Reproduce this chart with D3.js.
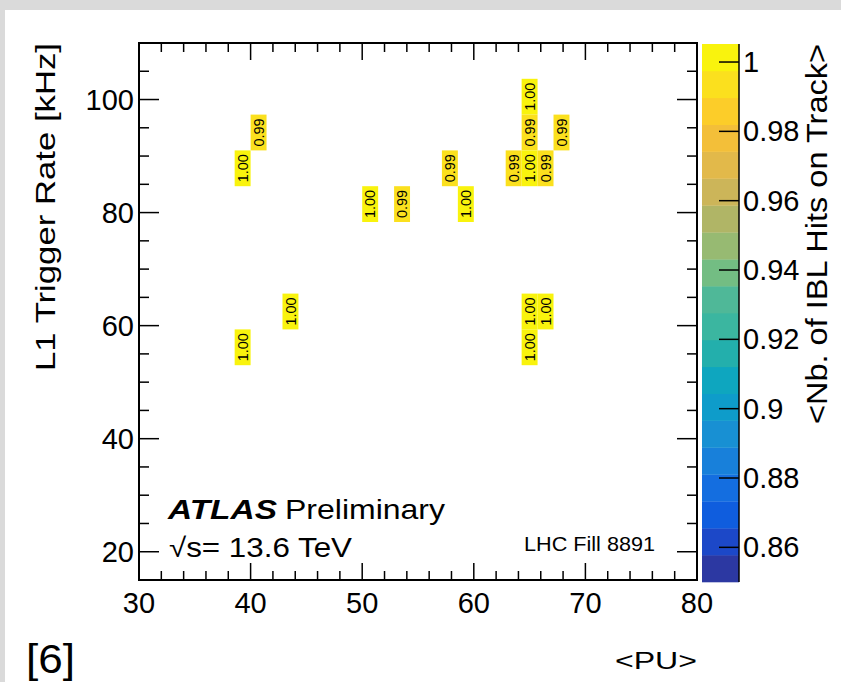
<!DOCTYPE html>
<html>
<head>
<meta charset="utf-8">
<script src="https://d3js.org/d3.v7.min.js"></script>
<style>
  body { margin: 0; background: #dadada; }
  svg text { font-family: "Liberation Sans", Arial, sans-serif; fill: #000; }
</style>
</head>
<body>
<svg id="chart" width="841" height="682"></svg>
<script>
// --- data: bin centres of filled cells (<PU>, L1 rate) and mean IBL hits ---
var pileup = [39.3, 40.7, 50.7, 53.6, 57.9, 59.3, 63.6, 65.0, 65.0, 65.0, 66.4, 67.9,
              43.6, 39.3, 65.0, 65.0, 66.4];
var l1Rate = [87.8, 94.2, 81.5, 81.5, 87.8, 81.5, 87.8, 100.5, 94.2, 87.8, 87.8, 94.2,
              62.5, 56.2, 62.5, 56.2, 62.5];
var iblHits = [1.00, 0.99, 1.00, 0.99, 0.99, 1.00, 0.99, 1.00, 0.99, 1.00, 0.99, 0.99,
               1.00, 1.00, 1.00, 1.00, 1.00];

// axis ticks
var xMajor = [30, 40, 50, 60, 70, 80];
var xMinor = d3.range(30, 81, 2);
var yMajor = [20, 40, 60, 80, 100];
var yMinor = d3.range(15, 111, 5);
var zTicks = [0.86, 0.88, 0.9, 0.92, 0.94, 0.96, 0.98, 1];
var zLabels = ["0.86", "0.88", "0.9", "0.92", "0.94", "0.96", "0.98", "1"];

// palette bands, bottom -> top
var bird = ["#2c38a2", "#1c48c8", "#0f5dde", "#146ee0", "#1880da", "#1890d3", "#0e9cca",
            "#0ea6bf", "#23afac", "#3bb6a0", "#4fb898", "#73bd83", "#97ba72", "#b0b566",
            "#ccb559", "#e2b94a", "#f3bf39", "#fccd29", "#fbe01e", "#f9f30d"];

// binning of the histogram
var xBins = 35, yBins = 15;
var xLo = 30, xHi = 80, yLo = 15, yHi = 110;
var zLo = 0.85, zHi = 1.0052;

var svg = d3.select("#chart");

// slide background
svg.append("rect").attr("width", 841).attr("height", 682).attr("fill", "#dadada");
svg.append("rect").attr("x", 5).attr("y", 10).attr("width", 836).attr("height", 672).attr("fill", "#fff");

var x = d3.scaleLinear().domain([xLo, xHi]).range([139, 697]);
var y = d3.scaleLinear().domain([yLo, yHi]).range([580, 43]);
var z = d3.scaleLinear().domain([zLo, zHi]).range([582, 44]);
var color = d3.scaleQuantize().domain([zLo, zHi]).range(bird);

var bx = (xHi - xLo) / xBins, by = (yHi - yLo) / yBins;
var cells = pileup.map(function(p, i) {
  var ix = Math.floor((p - xLo) / bx), iy = Math.floor((l1Rate[i] - yLo) / by);
  return { x0: xLo + ix * bx, x1: xLo + (ix + 1) * bx, y0: yLo + iy * by, y1: yLo + (iy + 1) * by, v: iblHits[i] };
});

var cg = svg.append("g");
cg.selectAll("rect").data(cells).enter().append("rect")
  .attr("x", function(d) { return x(d.x0); })
  .attr("y", function(d) { return y(d.y1); })
  .attr("width", function(d) { return x(d.x1) - x(d.x0); })
  .attr("height", function(d) { return y(d.y0) - y(d.y1); })
  .attr("fill", function(d) { return color(d.v); });

cg.selectAll("text").data(cells).enter().append("text")
  .attr("transform", function(d) {
    return "translate(" + (x(d.x0) + x(d.x1)) / 2 + "," + (y(d.y0) + y(d.y1)) / 2 + ") rotate(-90)";
  })
  .attr("text-anchor", "middle").attr("dy", "0.36em")
  .attr("font-size", 14).attr("textLength", 28).attr("lengthAdjust", "spacingAndGlyphs")
  .text(function(d) { return d3.format(".2f")(d.v); });

// frame
svg.append("rect").attr("x", 139).attr("y", 43).attr("width", 558).attr("height", 537)
  .attr("fill", "none").attr("stroke", "#000").attr("stroke-width", 2);

var tg = svg.append("g").attr("stroke", "#000").attr("stroke-width", 1.5);
// x ticks bottom and top
xMinor.forEach(function(v) {
  var len = xMajor.indexOf(v) >= 0 ? 17 : 9;
  tg.append("line").attr("x1", x(v)).attr("x2", x(v)).attr("y1", 580).attr("y2", 580 - len);
  tg.append("line").attr("x1", x(v)).attr("x2", x(v)).attr("y1", 43).attr("y2", 43 + len);
});
// y ticks left and right
yMinor.forEach(function(v) {
  var len = yMajor.indexOf(v) >= 0 ? 20 : 10;
  tg.append("line").attr("y1", y(v)).attr("y2", y(v)).attr("x1", 139).attr("x2", 139 + len);
  tg.append("line").attr("y1", y(v)).attr("y2", y(v)).attr("x1", 697).attr("x2", 697 - len);
});

svg.selectAll(".xl").data(xMajor).enter().append("text").attr("class", "xl")
  .attr("x", function(d) { return x(d); }).attr("y", 613)
  .attr("text-anchor", "middle").attr("font-size", 29).text(function(d) { return d; });

svg.selectAll(".yl").data(yMajor).enter().append("text").attr("class", "yl")
  .attr("x", 134).attr("y", function(d) { return y(d) + 10; })
  .attr("text-anchor", "end").attr("font-size", 29).text(function(d) { return d; });

// colour bar
var zb = svg.append("g");
zb.selectAll("rect").data(bird).enter().append("rect")
  .attr("x", 702).attr("width", 37)
  .attr("y", function(d, i) { return z(zLo + (i + 1) * (zHi - zLo) / bird.length); })
  .attr("height", function(d, i) { return z(zLo + i * (zHi - zLo) / bird.length) - z(zLo + (i + 1) * (zHi - zLo) / bird.length) + 0.3; })
  .attr("fill", function(d) { return d; });
zb.append("line").attr("x1", 739).attr("x2", 739).attr("y1", 44).attr("y2", 582)
  .attr("stroke", "#000").attr("stroke-width", 1.5);
zb.selectAll("line.t").data(zTicks).enter().append("line").attr("class", "t")
  .attr("x1", 719).attr("x2", 739)
  .attr("y1", function(d) { return z(d); }).attr("y2", function(d) { return z(d); })
  .attr("stroke", "#000").attr("stroke-width", 1.5);
zb.selectAll("text").data(zTicks).enter().append("text")
  .attr("x", 743).attr("y", function(d) { return z(d) + 10; })
  .attr("font-size", 29).text(function(d, i) { return zLabels[i]; });

// titles
svg.append("text").attr("transform", "translate(55,43) rotate(-90)")
  .attr("text-anchor", "end").attr("font-size", 28)
  .attr("textLength", 328).attr("lengthAdjust", "spacingAndGlyphs")
  .text("L1 Trigger Rate [kHz]");

svg.append("text").attr("transform", "translate(827,44) rotate(-90)")
  .attr("text-anchor", "end").attr("font-size", 29)
  .attr("textLength", 380).attr("lengthAdjust", "spacingAndGlyphs")
  .text("<Nb. of IBL Hits on Track>");

svg.append("text").attr("x", 615).attr("y", 669).attr("font-size", 24)
  .attr("textLength", 82).attr("lengthAdjust", "spacingAndGlyphs").text("<PU>");

// labels inside the frame
svg.append("text").attr("x", 168).attr("y", 519).attr("font-size", 28)
  .attr("font-weight", "bold").attr("font-style", "italic")
  .attr("textLength", 109).attr("lengthAdjust", "spacingAndGlyphs").text("ATLAS");
svg.append("text").attr("x", 285).attr("y", 519).attr("font-size", 28)
  .attr("textLength", 160).attr("lengthAdjust", "spacingAndGlyphs").text("Preliminary");
svg.append("text").attr("x", 169).attr("y", 557).attr("font-size", 27)
  .attr("textLength", 183).attr("lengthAdjust", "spacingAndGlyphs").text("\u221As= 13.6 TeV");
svg.append("text").attr("x", 524).attr("y", 551).attr("font-size", 20)
  .attr("textLength", 131).attr("lengthAdjust", "spacingAndGlyphs").text("LHC Fill 8891");

// slide reference
svg.append("text").attr("x", 26).attr("y", 673).attr("font-size", 40)
  .attr("textLength", 49).attr("lengthAdjust", "spacingAndGlyphs")
  .attr("font-family", "'Open Sans', sans-serif").text("[6]");
</script>
</body>
</html>
